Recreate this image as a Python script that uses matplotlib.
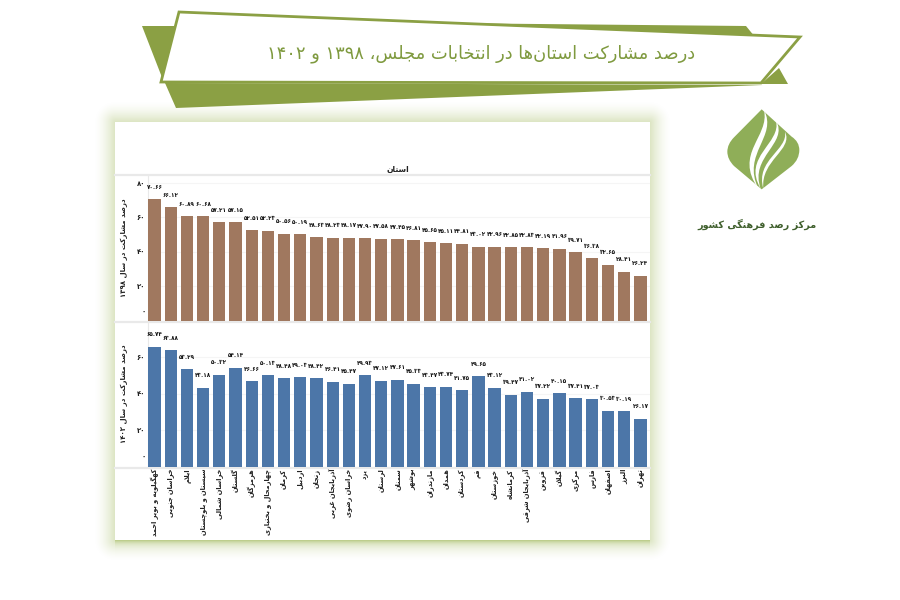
"""Percent participation by province, Majlis elections 1398 and 1402."""
import re
import unicodedata
import numpy as np
import matplotlib
matplotlib.use('Agg')
import matplotlib.pyplot as plt
from matplotlib.font_manager import FontProperties
from matplotlib.patches import PathPatch, Polygon, Rectangle
from matplotlib.path import Path
from matplotlib.transforms import ScaledTranslation

provinces = ['کهگیلویه و بویر احمد', 'خراسان جنوبی', 'ایلام', 'سیستان و بلوچستان',
             'خراسان شمالی', 'گلستان', 'هرمزگان', 'چهارمحال و بختیاری', 'کرمان',
             'اردبیل', 'زنجان', 'آذربایجان غربی', 'خراسان رضوی', 'یزد', 'لرستان',
             'سمنان', 'بوشهر', 'مازندران', 'همدان', 'کردستان', 'قم', 'خوزستان',
             'کرمانشاه', 'آذربایجان شرقی', 'قزوین', 'گیلان', 'مرکزی', 'فارس',
             'اصفهان', 'البرز', 'تهران']
vals_1398 = [70.66, 66.12, 60.89, 60.68, 57.21, 57.15, 52.51, 52.23, 50.56, 50.19, 48.63,
             48.23, 48.17, 47.90, 47.58, 47.45, 46.81, 45.65, 45.11, 44.81, 43.02, 42.96,
             42.85, 42.83, 42.19, 41.96, 39.71, 36.38, 32.65, 28.41, 26.24]
vals_1402 = [65.74, 63.88, 53.29, 43.18, 50.32, 54.14, 46.66, 50.13, 48.48, 49.03, 48.42,
             46.41, 45.47, 49.93, 47.12, 47.61, 45.33, 43.47, 43.74, 41.75, 49.65, 43.12,
             39.47, 41.02, 37.22, 40.15, 37.41, 37.03, 30.53, 30.19, 26.17]
ticks_1398 = [0, 20, 40, 60, 80]
ticks_1402 = [0, 20, 40, 60]

TITLE = 'درصد مشارکت استان\u200cها در انتخابات مجلس، ۱۳۹۸ و ۱۴۰۲'
HEADER = 'استان'
YLABEL_1398 = 'درصد مشارکت در سال ۱۳۹۸'
YLABEL_1402 = 'درصد مشارکت در سال ۱۴۰۲'
LOGO_TEXT = 'مرکز رصد فرهنگی کشور'

GREEN = '#8ba044'
GREEN_TXT = '#7f9a3f'
BROWN = '#a0785f'
BLUE = '#4c76a8'
BAND = '#e9e9e9'
W, H = 900, 600

# narrow digits for the data labels
LABEL_FONT = FontProperties(family='DejaVu Sans', stretch='condensed', weight='bold', size=4.5)

# matplotlib does no Arabic shaping, so pick the presentation forms by hand
_forms = {}
for _c in list(range(0xFB50, 0xFE00)) + list(range(0xFE70, 0xFEFF)):
    _d = unicodedata.decomposition(chr(_c)).split()
    if len(_d) == 2 and _d[0] in ('<isolated>', '<final>', '<initial>', '<medial>'):
        _forms.setdefault(chr(int(_d[1], 16)), {})[_d[0]] = chr(_c)


def fa(text):
    out = ''
    for i, ch in enumerate(text):
        if ch not in _forms:
            out += '' if ch == '\u200c' else ch
            continue
        prev = text[i - 1] if i else ''
        nxt = text[i + 1] if i + 1 < len(text) else ''
        joins_prev = prev in _forms and '<initial>' in _forms[prev]
        joins_next = nxt in _forms and '<initial>' in _forms[ch]
        key = {(0, 0): '<isolated>', (1, 0): '<final>',
               (0, 1): '<initial>', (1, 1): '<medial>'}[(int(joins_prev), int(joins_next))]
        out += _forms[ch].get(key, ch)
    out = out.replace('\uFEDF\uFE8E', '\uFEFB').replace('\uFEE0\uFE8E', '\uFEFC')
    return re.sub('[۰-۹.]+', lambda m: m.group()[::-1], out[::-1])


def fa_num(v):
    return v.translate(str.maketrans('0123456789', '۰۱۲۳۴۵۶۷۸۹'))


def px_axes(fig, left, top, right, bottom):
    return fig.add_axes([left / W, 1 - bottom / H, (right - left) / W, (bottom - top) / H])


def logo_xy(x, y):
    return (670 + x / 3, 100 + y / 3)


def flame(ax, top, c1, c2, bottom, w, color='white'):
    """Tapered strand of the logo, in logo crop coordinates."""
    shift = lambda p, dx=0: logo_xy(p[0] + dx, p[1])
    verts = [shift(top), shift(c1), shift(c2), shift(bottom), shift(c2, w), shift(c1, w), shift(top), shift(top)]
    codes = [Path.MOVETO] + [Path.CURVE4] * 6 + [Path.CLOSEPOLY]
    ax.add_patch(PathPatch(Path(verts, codes), fc=color, ec='none', zorder=4))


def draw_background(ax):
    ax.set_xlim(0, W)
    ax.set_ylim(H, 0)
    ax.axis('off')

    # soft rounded glow around the chart card, with a darker rim under it
    xx, yy = np.meshgrid(np.arange(W) + .5, np.arange(H) + .5)
    dx = np.maximum(np.maximum(115 - xx, xx - 650), 0)
    dy = np.maximum(np.maximum(122 - yy, yy - 540), 0)
    alpha = np.clip(1 - np.hypot(dx, dy) / 21.0, 0, 1) ** 1.6 * 0.5
    rim = np.exp(-np.maximum(yy - 540, 0) / 3.0) * 0.55 * (yy > 540) * (xx > 115) * (xx < 650)
    glow = np.zeros((H, W, 4))
    glow[..., :3] = matplotlib.colors.to_rgb('#b9cb86')
    glow[..., 3] = np.clip(alpha + rim, 0, 1)
    ax.imshow(glow, extent=(0, W, H, 0), aspect='auto', zorder=0)
    ax.set_xlim(0, W)
    ax.set_ylim(H, 0)
    ax.add_patch(Rectangle((115, 122), 535, 418, fc='white', ec='none', zorder=1))

    # ribbon
    for pts in ([(142, 26), (178, 26), (163, 80)],
                [(434, 23), (746, 26), (755, 37), (600, 37)],
                [(779, 68), (788, 84), (761, 84)],
                [(165, 83), (763, 85), (176, 108)]):
        ax.add_patch(Polygon(pts, closed=True, fc=GREEN, ec='none', zorder=2))
    ax.add_patch(Polygon([(179, 12), (800, 37), (761, 83), (161, 82)], closed=True,
                         fc='white', ec=GREEN, lw=2.0, zorder=3))
    ax.text(481, 54, fa(TITLE), fontsize=12.9, color=GREEN_TXT, ha='center', va='center', zorder=4)

    # logo: rounded diamond with pointed top and bottom
    verts = [logo_xy(275, 28), logo_xy(192, 112), logo_xy(172, 132), logo_xy(172, 155),
             logo_xy(172, 178), logo_xy(192, 198), logo_xy(275, 268),
             logo_xy(365, 198), logo_xy(388, 178), logo_xy(388, 150),
             logo_xy(388, 125), logo_xy(365, 110), logo_xy(275, 28), logo_xy(275, 28)]
    codes = [Path.MOVETO, Path.LINETO, Path.CURVE3, Path.CURVE3, Path.CURVE3, Path.CURVE3, Path.LINETO,
             Path.LINETO, Path.CURVE3, Path.CURVE3, Path.CURVE3, Path.CURVE3, Path.LINETO, Path.CLOSEPOLY]
    ax.add_patch(PathPatch(Path(verts, codes), fc='#8fae58', ec='none', zorder=3))
    flame(ax, (282, 30), (300, 110), (190, 160), (265, 266), 24)
    flame(ax, (318, 62), (335, 130), (215, 170), (272, 266), 22)
    flame(ax, (345, 95), (355, 150), (255, 180), (280, 266), 16)
    ax.text(757, 224, fa(LOGO_TEXT), fontsize=6.9, fontweight='bold',
            color='#3f5f2c', ha='center', va='center', zorder=4)

    # header and pane separators
    ax.text(398, 169, fa(HEADER), fontsize=5.5, fontweight='bold', color='#222222',
            ha='center', va='center', zorder=4)
    for y in (174.5, 321.5, 467.5):
        ax.plot([115, 650], [y, y], color=BAND, lw=1.6, zorder=2)
    ax.text(124, 248, fa(YLABEL_1398), fontsize=5, fontweight='bold', color='#222222',
            rotation=90, ha='center', va='center', zorder=4)
    ax.text(124, 394, fa(YLABEL_1402), fontsize=5, fontweight='bold', color='#222222',
            rotation=90, ha='center', va='center', zorder=4)


def draw_pane(ax, vals, color, ticks, ymax):
    xs = np.arange(len(vals))
    ax.bar(xs, vals, width=0.76, color=color, zorder=3)
    for x, v in zip(xs, vals):
        ax.annotate(fa_num(f'{v:.2f}'), (x, v), xytext=(0, 8.6), textcoords='offset points',
                    ha='center', va='center', fontproperties=LABEL_FONT, color='#111111',
                    zorder=4, annotation_clip=False)
    ax.set_xlim(-0.43, 30.59)
    ax.set_ylim(0, ymax)
    ax.set_yticks(ticks)
    ax.set_yticklabels([fa_num(str(t)) for t in ticks], fontsize=5, fontweight='bold', color='#222222')
    ax.tick_params(axis='y', length=0, pad=1.5)
    ax.grid(axis='y', color='#f5f5f5', lw=0.8, zorder=0)
    ax.patch.set_alpha(0)
    for side in ('top', 'right', 'bottom'):
        ax.spines[side].set_visible(False)
    ax.spines['left'].set_color(BAND)
    # the zero label sits higher than its tick in the source chart
    lab0 = ax.get_yticklabels()[0]
    lab0.set_transform(lab0.get_transform() + ScaledTranslation(0, 7 / 72, ax.figure.dpi_scale_trans))


fig = plt.figure(figsize=(9, 6), dpi=100, facecolor='white')
bg = fig.add_axes([0, 0, 1, 1], zorder=0)
draw_background(bg)

ax_top = px_axes(fig, 147.5, 175, 650, 320.7)
ax_top.set_zorder(2)
draw_pane(ax_top, vals_1398, BROWN, ticks_1398, 84.7)
ax_top.set_xticks([])

ax_low = px_axes(fig, 147.5, 322.5, 650, 466.5)
ax_low.set_zorder(2)
draw_pane(ax_low, vals_1402, BLUE, ticks_1402, 79)
ax_low.set_xticks(np.arange(len(provinces)))
ax_low.set_xticklabels([fa(p) for p in provinces], rotation=90, ha='center', va='top',
                       fontsize=4.8, fontweight='bold', color='#222222')
ax_low.tick_params(axis='x', length=0, pad=1.5)

fig.savefig('out.png', dpi=100)
